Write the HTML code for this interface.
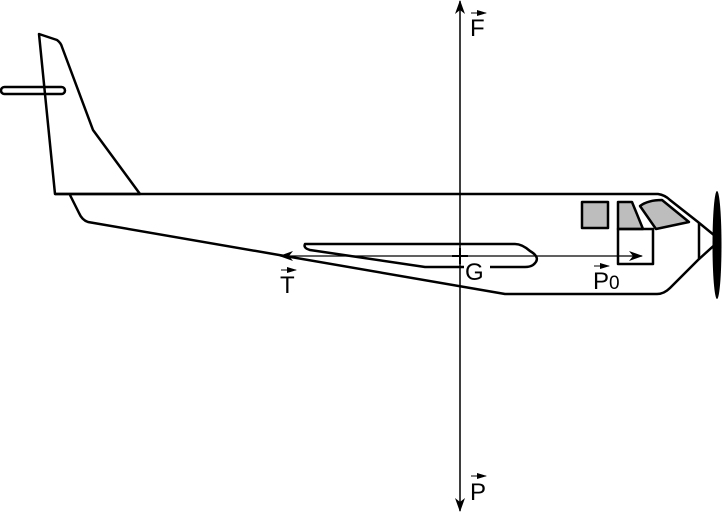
<!DOCTYPE html>
<html><head><meta charset="utf-8"><style>
html,body{margin:0;padding:0;background:#fff;width:723px;height:512px;overflow:hidden}
svg{display:block}
text{font-family:"Liberation Sans",sans-serif;font-size:24px;fill:#000}
</style></head><body>
<svg width="723" height="512" viewBox="0 0 723 512">
<defs>
<marker id="a" markerWidth="14" markerHeight="10" refX="13" refY="5" orient="auto" markerUnits="userSpaceOnUse">
<path d="M0,0 L14,5 L0,10 L4,5 Z" fill="#000"/></marker>
<marker id="s" markerWidth="10" markerHeight="6" refX="9" refY="3" orient="auto" markerUnits="userSpaceOnUse">
<path d="M0,0 L10,3 L0,6 Z" fill="#000"/></marker>
</defs>
<g fill="none" stroke="#000" stroke-width="2.5" stroke-linejoin="round">
<rect x="1" y="87" width="64" height="7" rx="3.5" fill="#fff"/>
<path d="M39,34 L57,40 Q61,43 62,47 L93,130 L140,194 L55,194 Z"/>
<path d="M55,194 L658,194 Q665,195 670,200 L698,222 L720,240 L698,260 L670,288 Q664,294 657,294 L505,294 L88,222 Q82,220 79,213 L70,195"/>
<line x1="699" y1="223" x2="699" y2="259"/>
<path d="M308,244 L515,244 Q522,244 530,251 Q542,258 533,265 Q530,267 525,267 L425,267 L310,250 Q303,248 305,244 Z"/>
<rect x="582" y="202" width="26" height="26" fill="#bdbdbd"/>
<path d="M618,202 L632,202 L643,229 L618,229 Z" fill="#bdbdbd"/>
<path d="M640,206 Q648,200 662,200 L689,222 L656,229 Z" fill="#bdbdbd"/>
<rect x="618" y="229" width="35" height="35"/>
</g>
<ellipse cx="717" cy="245" rx="4.5" ry="54" fill="#000"/>
<g stroke="#000" stroke-width="1.3" fill="none">
<line x1="460" y1="511" x2="460" y2="1" marker-end="url(#a)"/>
<line x1="460" y1="1" x2="460" y2="511" marker-end="url(#a)"/>
<line x1="460" y1="256" x2="642" y2="256" marker-end="url(#a)"/>
<line x1="460" y1="256" x2="280" y2="256" marker-end="url(#a)"/>
<line x1="452" y1="256" x2="468" y2="256" stroke-width="2"/>
<line x1="460" y1="248" x2="460" y2="264" stroke-width="2"/>
</g>
<rect x="464" y="261" width="26" height="22" fill="#fff"/>
<text x="465" y="280">G</text>
<text x="470" y="36">F</text>
<line x1="471" y1="13" x2="486" y2="13" stroke="#000" stroke-width="1" marker-end="url(#s)"/>
<text x="470" y="500">P</text>
<line x1="471" y1="476" x2="486" y2="476" stroke="#000" stroke-width="1" marker-end="url(#s)"/>
<text x="280" y="293">T</text>
<line x1="281" y1="270" x2="296" y2="270" stroke="#000" stroke-width="1" marker-end="url(#s)"/>
<text x="593" y="289">P<tspan font-size="19">0</tspan></text>
<line x1="594" y1="266" x2="609" y2="266" stroke="#000" stroke-width="1" marker-end="url(#s)"/>
</svg>
</body></html>
